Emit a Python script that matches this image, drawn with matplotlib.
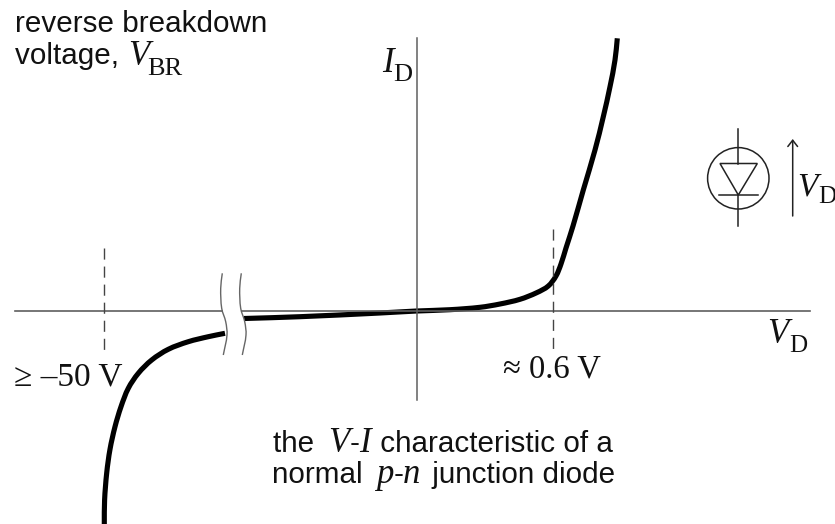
import matplotlib
matplotlib.use("Agg")
import matplotlib.pyplot as plt
import numpy as np
from matplotlib.path import Path
from matplotlib.patches import Circle, Polygon, PathPatch

# Curve, in picture pixels
reverse_x = [104.3,104.6,106.7,110,115,121,128.3,138.3,151.7,168.3,188.3,208.3,225]
reverse_y = [524,500,473,449.3,426.7,406.7,388.3,373.3,360,349.3,341.7,336.7,333.3]
forward_x = [244,300,380,416.7,450,480,500,520,536.7,548.3,556,561,566,573,583.3,595,603.3,610,615,617.3]
forward_y = [318.5,316.7,313,311,309.7,307.3,304,299.3,292.7,286,276,264,248,226,190,150,116.7,86.7,60,38.3]
break_x = [222.3,220.7,221.7,225.7,227,223.3]
break_y = [273.3,288.3,308.3,321.7,335,355]
break_offset = 19
h_axis_x = [15, 222, 242, 810]
h_axis_y = [310.7, 310.7]
v_axis_x = [417, 417]
v_axis_y = [38, 400]
marker_left_x, marker_left_y = [104, 104], [248, 355]
marker_right_x, marker_right_y = [553, 553], [229, 355]

SANS = "Liberation Sans"
SERIF = "Liberation Serif"
INK = "#111111"
GREY = "#5f5f5f"

fig = plt.figure(figsize=(8.35, 5.24), dpi=100)
ax = fig.add_axes([0, 0, 1, 1])
ax.set_xlim(0, 835)
ax.set_ylim(524, 0)
ax.axis("off")


def smooth(xs, ys, **kw):
    """Draw a smooth Bezier path through the read points."""
    p = np.column_stack([xs, ys])
    q = np.vstack([p[0], p, p[-1]])
    verts, codes = [p[0]], [Path.MOVETO]
    for i in range(1, len(q) - 2):
        # tangent scaled to each segment so uneven spacing leaves no kink
        seg = np.linalg.norm(q[i + 1] - q[i])
        t0 = q[i + 1] - q[i - 1]
        t1 = q[i + 2] - q[i]
        t0 = t0 / max(np.linalg.norm(t0), 1e-9)
        t1 = t1 / max(np.linalg.norm(t1), 1e-9)
        verts += [q[i] + t0 * seg / 3, q[i + 1] - t1 * seg / 3, q[i + 1]]
        codes += [Path.CURVE4] * 3
    ax.add_patch(PathPatch(Path(verts, codes), fill=False, **kw))


def run(x, y, pieces):
    """Place pieces of text one after another along a baseline."""
    r = fig.canvas.get_renderer()
    inv = ax.transData.inverted()
    for s, fam, style, size, dy, *kern in pieces:
        if kern:
            x += kern[0]
        t = ax.text(x, y + dy, s, family=fam, style=style, fontsize=size,
                    va="baseline", ha="left", color=INK)
        bb = t.get_window_extent(r)
        x = inv.transform((bb.x1, bb.y0))[0]


# axes
ax.plot(h_axis_x[:2], h_axis_y, color=GREY, lw=1.2)
ax.plot(h_axis_x[2:], h_axis_y, color=GREY, lw=1.2)
ax.plot(v_axis_x, v_axis_y, color=GREY, lw=1.1)
# voltage markers
dash = dict(color="#444444", lw=1.0, dashes=(8, 5))
ax.plot(marker_left_x, marker_left_y, **dash)
ax.plot(marker_right_x, marker_right_y, **dash)
# curve
curve = dict(ec="black", lw=3.7, capstyle="butt", joinstyle="round")
smooth(reverse_x, reverse_y, **curve)
smooth(forward_x, forward_y, **curve)
# axis break
smooth(break_x, break_y, ec="#666666", lw=1.0)
smooth([v + break_offset for v in break_x], break_y, ec="#666666", lw=1.0)

# diode symbol
sym = dict(color="#222222", lw=1.1)
ax.add_patch(Circle((738.3, 178.3), 30.7, fill=False, ec="#222222", lw=1.1))
ax.add_patch(Polygon([(720, 163.5), (757.3, 163.5), (738.3, 195)], closed=True,
                     fill=False, ec="#222222", lw=1.1))
ax.plot([738.3, 738.3], [129, 163.5], **sym)
ax.plot([738.3, 738.3], [195, 226], **sym)
ax.plot([719, 758], [195, 195], **sym)
ax.annotate("", xy=(792.7, 139), xytext=(792.7, 216),
            arrowprops=dict(arrowstyle="->,head_length=0.45,head_width=0.35",
                            color="#222222", lw=1.1, shrinkA=0, shrinkB=0))

# labels
S, T, SUB = 21.3, 25, 19
run(15, 32, [("reverse breakdown", SANS, "normal", S, 0)])
run(15, 64, [("voltage, ", SANS, "normal", S, 0), ("V", SERIF, "italic", T, 1, 1),
             ("BR", SERIF, "normal", SUB, 11, -2)])
run(382, 72, [("I", SERIF, "italic", T, 0), ("D", SERIF, "normal", SUB, 9)])
run(797, 196, [("V", SERIF, "italic", 24, 0), ("D", SERIF, "normal", 18, 7, 0.5)])
run(767, 343, [("V", SERIF, "italic", T, 0), ("D", SERIF, "normal", 18, 9, 0.5)])
run(503, 378, [("≈ 0.6 V", SERIF, "normal", 23.5, 0)])
run(14, 385, [("≥ –50 V", SERIF, "normal", 24, 0)])
run(273, 452, [("the ", SANS, "normal", S, 0), ("V", SERIF, "italic", T, 0, 6),
               ("-", SANS, "normal", S, 0), ("I", SERIF, "italic", T, 0),
               (" characteristic of a", SANS, "normal", S, 0, 1)])
run(272, 483, [("normal ", SANS, "normal", S, 0), ("p", SERIF, "italic", T, 0, 5),
               ("-", SANS, "normal", S, 0), ("n", SERIF, "italic", T, 0),
               (" junction diode", SANS, "normal", S, 0, 3)])

fig.savefig("out.png", dpi=100)
